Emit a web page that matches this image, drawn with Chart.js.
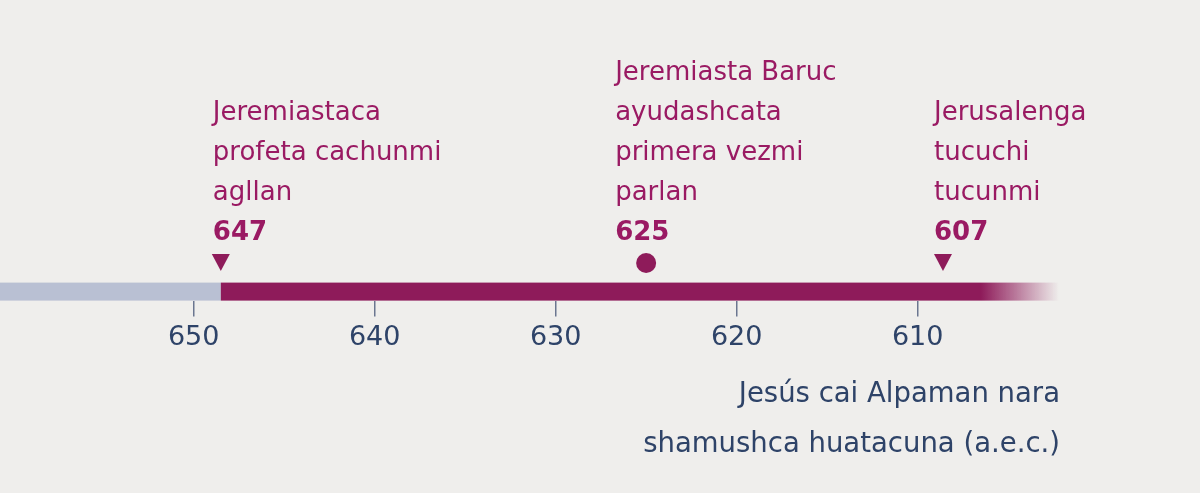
<!DOCTYPE html>
<html>
<head>
<meta charset="utf-8">
<script src="https://cdn.jsdelivr.net/npm/chart.js@4.4.1/dist/chart.umd.min.js"></script>
<style>
  html, body { margin: 0; padding: 0; background: #efeeec; }
  #wrap { width: 1200px; height: 493px; position: relative; }
</style>
</head>
<body>
<div id="wrap"><canvas id="timeline"></canvas></div>
<script>
// Timeline data (years B.C.E., axis runs right-to-left in value)
const tickYears = [650, 640, 630, 620, 610];
const eventYears = [648.5, 625, 608.6];
const eventLabels = [
    ['Jeremiastaca', 'profeta cachunmi', 'agllan'],
    ['Jeremiasta Baruc', 'ayudashcata', 'primera vezmi', 'parlan'],
    ['Jerusalenga', 'tucuchi', 'tucunmi']
];
const eventYearText = ['647', '625', '607'];
const eventMarkers = ['triangle', 'circle', 'triangle'];
const barStart = 660.7;
const barSplit = 648.5;
const barEnd = 602.2;
const axisTitle = ['Jesús cai Alpaman nara', 'shamushca huatacuna (a.e.c.)'];

const MAGENTA = '#8e1b5a';
const TEXT_MAGENTA = '#9a1a63';
const NAVY = '#2e4368';
const FONT = '"DejaVu Sans", sans-serif';

const timelinePlugin = {
    id: 'timeline',
    afterDatasetsDraw(chart) {
        const ctx = chart.ctx;
        const x = chart.scales.x;
        const barBottom = chart.chartArea.bottom;
        const barTop = barBottom - 18;

        // grey lead-in
        const x0 = x.getPixelForValue(barStart);
        const x1 = x.getPixelForValue(barSplit);
        const x2 = x.getPixelForValue(barEnd);
        ctx.save();
        ctx.fillStyle = '#b9c0d3';
        ctx.fillRect(x0, barTop, x1 - x0, 18);

        // magenta bar fading at the end
        const fadeFrom = x.getPixelForValue(606.5);
        const grad = ctx.createLinearGradient(fadeFrom, 0, x2, 0);
        grad.addColorStop(0, MAGENTA);
        grad.addColorStop(1, 'rgba(142,27,90,0)');
        ctx.fillStyle = MAGENTA;
        ctx.fillRect(x1, barTop, fadeFrom - x1, 18);
        ctx.fillStyle = grad;
        ctx.fillRect(fadeFrom, barTop, x2 - fadeFrom, 18);

        // event markers and labels
        const textOffsets = [-8, -31, -9];
        eventYears.forEach((yr, i) => {
            const px = x.getPixelForValue(yr);
            ctx.fillStyle = MAGENTA;
            ctx.beginPath();
            if (eventMarkers[i] === 'triangle') {
                ctx.moveTo(px - 9, 254);
                ctx.lineTo(px + 9, 254);
                ctx.lineTo(px, 271);
                ctx.closePath();
            } else {
                ctx.arc(px, 263, 10, 0, Math.PI * 2);
            }
            ctx.fill();

            const tx = px + textOffsets[i];
            ctx.fillStyle = TEXT_MAGENTA;
            ctx.textAlign = 'left';
            ctx.textBaseline = 'alphabetic';
            ctx.font = 'bold 26px ' + FONT;
            ctx.fillText(eventYearText[i], tx, 240);
            ctx.font = '26px ' + FONT;
            const lines = eventLabels[i];
            lines.forEach((ln, j) => {
                ctx.fillText(ln, tx, 240 - 40 * (lines.length - j));
            });
        });

        // axis title
        ctx.fillStyle = NAVY;
        ctx.textAlign = 'right';
        ctx.font = '27.5px ' + FONT;
        ctx.fillText(axisTitle[0], 1060, 402);
        ctx.fillText(axisTitle[1], 1060, 452);
        ctx.restore();
    }
};

new Chart(document.getElementById('timeline'), {
    type: 'scatter',
    data: { datasets: [{ data: [], pointRadius: 0 }] },
    plugins: [timelinePlugin],
    options: {
        responsive: true,
        maintainAspectRatio: false,
        animation: false,
        layout: { padding: { left: 0, right: 0, top: 0, bottom: 134 } },
        plugins: { legend: { display: false }, tooltip: { enabled: false } },
        scales: {
            x: {
                type: 'linear',
                reverse: true,
                min: 594.4,
                max: 660.7,
                afterBuildTicks: (axis) => { axis.ticks = tickYears.map(v => ({ value: v })); },
                border: { display: false },
                grid: { drawOnChartArea: false, drawTicks: true, tickLength: 16, color: '#6b7690', lineWidth: 1.5 },
                ticks: { color: NAVY, font: { family: FONT, size: 27 }, padding: 5, maxRotation: 0 }
            },
            y: { display: false, min: 0, max: 1 }
        }
    }
});
</script>
</body>
</html>
